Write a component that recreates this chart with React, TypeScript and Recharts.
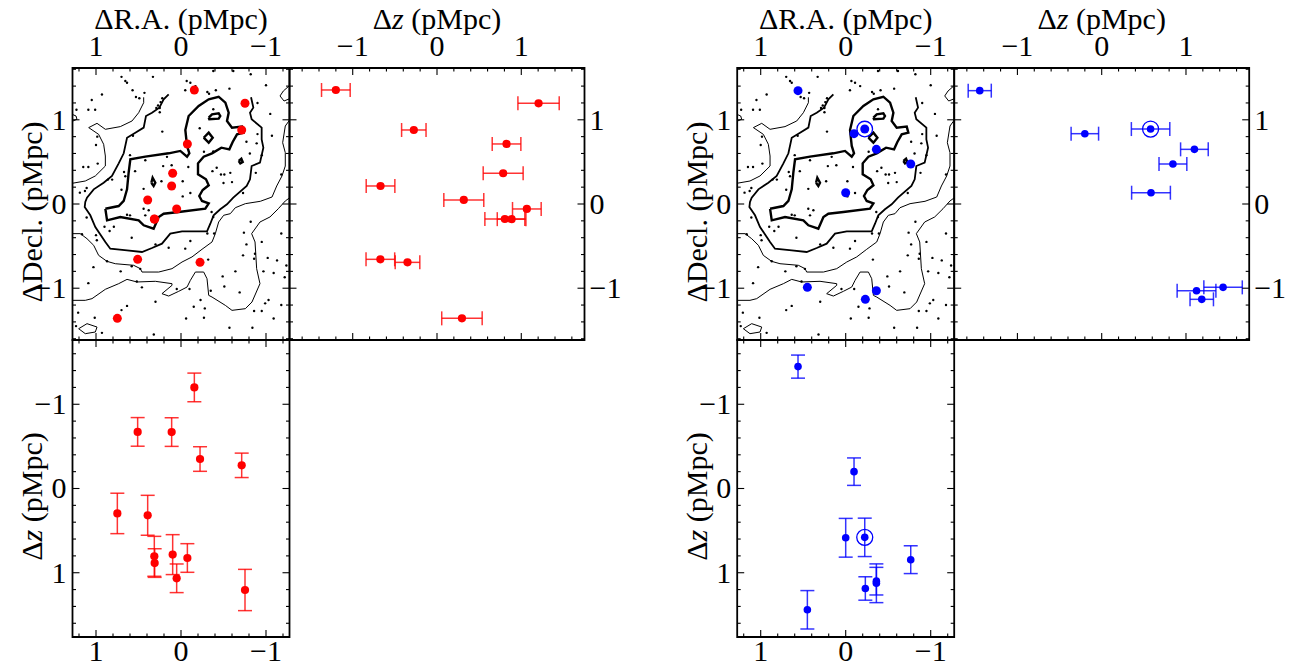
import React from 'react';
import { ScatterChart, Scatter, XAxis, YAxis, ErrorBar, ReferenceArea } from 'recharts';

const FONT = "'Liberation Serif', 'DejaVu Serif', serif";
const W = 1296;
const H = 664;

// ---------- axis ticks / domains ----------
const RA_TICKS = [-1.2, -1.0, -0.8, -0.6, -0.4, -0.2, 0, 0.2, 0.4, 0.6, 0.8, 1.0, 1.2];
const DEC_TICKS = [-1.6, -1.4, -1.2, -1.0, -0.8, -0.6, -0.4, -0.2, 0, 0.2, 0.4, 0.6, 0.8, 1.0, 1.2, 1.4, 1.6];
const DZ_TICKS = [-1.6, -1.4, -1.2, -1.0, -0.8, -0.6, -0.4, -0.2, 0, 0.2, 0.4, 0.6, 0.8, 1.0, 1.2, 1.4, 1.6];
const RA_DOMAIN = [-1.2765, 1.2765];
const DEC_DOMAIN = [-1.615, 1.615];
const DZ_DOMAIN_X = [-1.75, 1.75];
const DZ_DOMAIN_Y = [-1.763, 1.763];

// ---------- red sample ----------
const RED_RA = [-0.157, -0.753, -0.714, -0.075, 0.098, 0.11, 0.392, 0.051, 0.314, 0.31, 0.51, -0.224, 0.749];
const RED_DEC = [1.354, 1.196, 0.879, 0.713, 0.365, 0.214, 0.048, -0.059, -0.178, -0.18, -0.657, -0.693, -1.358];
const RED_DZ = [-1.2, 1.205, -0.275, 0.825, 0.785, -0.67, 0.318, 1.066, 0.805, 0.885, -0.672, -0.35, 0.296];
const RED_DZ_ERR = [0.17, 0.245, 0.145, 0.17, 0.237, 0.17, 0.237, 0.17, 0.237, 0.17, 0.17, 0.146, 0.24];

// ---------- blue sample ----------
const BLUE_RA = [0.561, -0.098, -0.224, -0.361, -0.765, 0.0, 0.451, -0.361, -0.231];
const BLUE_DEC = [1.346, 0.835, 0.89, 0.649, 0.475, 0.134, -0.99, -1.03, -1.132];
const BLUE_DZ = [-1.447, -0.2, 0.58, 1.1, 0.845, 0.585, 1.44, 1.125, 1.187];
const BLUE_DZ_ERR = [0.137, 0.163, 0.228, 0.164, 0.165, 0.23, 0.228, 0.23, 0.139];
const BLUE_MARKED = [2];

// ---------- field galaxies (RA, Dec) ----------
const FIELD_GALAXIES = [
  [0.70, 1.51], [0.655, 1.46], [0.635, 1.44], [0.33, 1.51], [0.57, 1.35], [0.43, 1.32], [0.53, 1.27], [0.49, 1.255],
  [1.05, 1.235], [0.93, 1.30], [1.23, 1.12], [1.09, 1.12], [1.01, 1.12], [0.22, 1.255], [0.24, 1.21], [0.27, 1.17],
  [0.29, 1.14], [0.25, 1.14], [0.25, 1.09], [0.22, 0.86], [0.985, 0.80], [1.0, 0.70], [1.15, 0.44], [1.09, 0.44],
  [0.98, 0.48], [0.60, 0.58], [0.565, 0.81], [0.42, 0.52], [0.165, 0.56], [0.21, 0.45], [0.11, 0.46], [0.54, 0.39],
  [0.67, 0.38], [0.655, 0.33], [0.86, 0.29], [0.81, 0.29], [1.11, 0.19], [1.13, 0.155], [1.19, 0.135], [0.70, 0.17],
  [0.44, 0.18], [0.23, 0.27],
  [-0.067, 1.46], [-0.41, 1.35], [-0.57, 1.37], [-0.82, 1.54], [-1.0, 1.41], [-0.615, 1.58], [-0.38, 1.58], [-0.38, 1.125],
  [-0.22, 0.90], [-0.90, 1.20], [-1.05, 1.07], [-1.07, 0.81], [-0.90, 0.83], [-0.77, 0.74], [-0.89, 0.72], [-0.81, 0.60],
  [-0.95, 0.58], [-0.27, 0.62], [-0.38, 0.625], [-0.086, 0.44], [-0.42, 0.43], [-0.37, 0.39], [-0.47, 0.35], [-0.51, 0.35],
  [-0.58, 0.37], [-0.50, 0.25], [-0.60, 0.26], [-0.02, 0.27], [-0.11, 0.13], [-0.02, 0.09], [-1.18, 0.35], [-0.73, 0.13],
  [-0.88, 0.37], [-0.17, 1.40], [-0.11, 1.44], [-0.05, 1.35], [-0.31, 1.33], [-0.33, 1.31],
  [0.635, -0.127], [0.60, -0.135], [0.44, -0.056], [0.38, -0.075], [0.42, -0.135], [1.11, -0.16], [0.90, -0.27], [0.84, -0.32],
  [0.79, -0.27], [1.165, -0.36], [1.0, -0.37], [0.99, -0.43], [0.58, -0.40], [0.30, -0.48], [0.145, -0.52], [0.87, -0.68],
  [0.71, -0.80], [0.58, -0.74], [0.48, -0.77], [1.03, -0.75], [1.09, -0.94], [0.52, -0.92], [0.46, -0.99], [0.05, -1.01],
  [0.30, -1.16], [0.635, -1.21], [0.70, -1.26], [1.21, -1.29], [1.015, -1.35], [1.235, -1.45], [0.93, -1.53], [0.32, -1.55],
  [-0.36, -0.095], [-0.38, -0.155], [-0.31, -0.35], [-0.39, -0.35], [-0.11, -0.44], [-0.05, -0.53], [-0.32, -0.66], [-0.74, -0.34],
  [-0.77, -0.48], [-0.82, -0.21], [-0.95, -0.45], [-0.87, -0.59], [-0.86, -0.65], [-0.73, -0.61], [-1.02, -0.64], [-1.13, -0.67],
  [-1.18, -0.35], [-1.24, -0.73], [-0.97, -0.80], [-1.09, -0.82], [-0.64, -0.80], [-0.49, -0.86], [-0.51, -0.98], [-0.69, -1.05],
  [-0.35, -1.03], [-0.10, -1.01], [-0.23, -1.14], [-0.15, -1.22], [-0.28, -1.24], [-0.06, -1.36], [-0.27, -1.35], [-0.86, -1.27],
  [-0.95, -1.27], [-0.99, -1.18], [-1.03, -1.14], [-1.09, -1.36], [-1.18, -1.20], [-0.57, -1.47], [-0.84, -1.47], [-1.22, -0.87],
];

// ---------- density contours (RA, Dec) ----------
const CONTOUR_INNER = [
  [0.89, -0.056], [0.733, -0.024], [0.674, 0.036], [0.635, 0.174], [0.616, 0.372], [0.596, 0.531], [0.42, 0.562], [0.145, 0.602],
  [0.008, 0.63], [-0.071, 0.562], [-0.098, 0.602], [-0.071, 0.689], [-0.051, 0.879], [-0.09, 1.045], [-0.208, 1.164], [-0.326, 1.243],
  [-0.443, 1.274], [-0.522, 1.203], [-0.561, 1.084], [-0.541, 0.986], [-0.60, 0.907], [-0.718, 0.919], [-0.737, 0.847], [-0.659, 0.827],
  [-0.608, 0.736], [-0.569, 0.649], [-0.475, 0.669], [-0.365, 0.602], [-0.267, 0.562], [-0.20, 0.483], [-0.20, 0.352], [-0.294, 0.293],
  [-0.326, 0.222], [-0.255, 0.166], [-0.215, 0.095], [-0.247, 0.036], [-0.326, 0.008], [-0.286, -0.056], [0.027, -0.095], [0.204, -0.115],
  [0.262, -0.154], [0.322, -0.293], [0.439, -0.253], [0.498, -0.194], [0.714, -0.154], [0.87, -0.194], [0.89, -0.056],
];
const ISLAND_A = [[-0.326, 1.025], [-0.365, 1.065], [-0.443, 1.077], [-0.462, 1.045], [-0.443, 1.013], [-0.333, 1.006], [-0.326, 1.025]];
const ISLAND_B = [[-0.267, 0.787], [-0.326, 0.847], [-0.373, 0.787], [-0.326, 0.728], [-0.267, 0.787]];
const ISLAND_C = [[0.349, 0.253], [0.334, 0.312], [0.302, 0.253], [0.322, 0.214], [0.349, 0.253]];
const ISLAND_D = [[-0.679, 0.511], [-0.71, 0.538], [-0.726, 0.499], [-0.698, 0.483], [-0.679, 0.511]];
const CONTOUR_MID = [
  [0.145, 1.303], [0.204, 1.243], [0.255, 1.144], [0.341, 1.084], [0.412, 1.045], [0.439, 0.907], [0.537, 0.847], [0.635, 0.787],
  [0.674, 0.602], [0.733, 0.483], [0.812, 0.333], [0.91, 0.253], [1.027, 0.174], [1.106, 0.075], [1.126, 0.024], [1.133, -0.036],
  [1.067, -0.134], [1.008, -0.273], [0.89, -0.451], [0.832, -0.531], [0.635, -0.55], [0.459, -0.57], [0.341, -0.523], [0.224, -0.471],
  [0.126, -0.352], [-0.012, -0.325], [-0.306, -0.325], [-0.345, -0.234], [-0.384, -0.134], [-0.462, -0.063], [-0.541, -0.004],
  [-0.615, 0.075], [-0.773, 0.214], [-0.812, 0.293], [-0.831, 0.451], [-0.929, 0.491], [-0.969, 0.669], [-0.949, 0.768],
  [-0.949, 0.907], [-0.831, 1.006], [-0.812, 1.084], [-0.851, 1.144], [-0.824, 1.267],
];
const CONTOUR_OUTER_NW = [
  [1.28, 0.246], [1.126, 0.273], [1.008, 0.333], [0.89, 0.451], [0.89, 0.57], [0.91, 0.709], [0.969, 0.827], [1.086, 0.907],
  [0.988, 0.958], [0.89, 0.887], [0.714, 0.919], [0.576, 0.986], [0.498, 1.084], [0.439, 1.203], [0.439, 1.267],
];
const CONTOUR_OUTER_S = [
  [1.28, -0.352], [1.184, -0.352], [1.106, -0.412], [1.027, -0.491], [0.969, -0.61], [0.871, -0.681], [0.773, -0.709], [0.557, -0.728],
  [0.478, -0.768], [0.459, -0.808], [0.262, -0.808], [0.106, -0.768], [-0.012, -0.689], [-0.129, -0.629], [-0.247, -0.538],
  [-0.365, -0.451], [-0.404, -0.352], [-0.443, -0.214], [-0.502, -0.134], [-0.58, -0.115], [-0.639, -0.044], [-0.757, 0.004],
  [-0.933, 0.032], [-1.071, 0.083], [-1.126, 0.214], [-1.188, 0.333], [-1.227, 0.451], [-1.227, 0.609], [-1.196, 0.728],
  [-1.227, 0.926], [-1.28, 1.0],
];
const CONTOUR_LOWEST = [
  [1.28, -1.144], [1.126, -1.144], [1.047, -1.124], [0.89, -1.013], [0.733, -0.946], [0.635, -0.895], [0.518, -0.926], [0.302, -0.918],
  [0.106, -0.946], [0.106, -0.966], [0.224, -1.065], [0.145, -1.093], [0.027, -1.037], [-0.071, -0.986], [-0.11, -0.907],
  [-0.169, -0.808], [-0.267, -0.808], [-0.306, -0.887], [-0.326, -1.085], [-0.365, -1.105], [-0.522, -1.204], [-0.60, -1.263],
  [-0.757, -1.243], [-0.835, -1.164], [-0.929, -0.946], [-0.89, -0.768], [-0.871, -0.451], [-0.831, -0.352], [-0.929, -0.214],
  [-1.047, -0.154], [-1.145, -0.056], [-1.227, 0.036], [-1.28, 0.075],
];
const CONTOUR_EDGE_W = [[1.28, 1.065], [1.235, 1.045], [1.224, 1.006], [1.28, 0.982]];
const CONTOUR_EDGE_NE = [[-1.28, 1.409], [-1.204, 1.342], [-1.165, 1.283], [-1.212, 1.223], [-1.28, 1.251]];
const CONTOUR_LOOP_SW = [[1.204, -1.481], [1.106, -1.421], [0.988, -1.461], [1.008, -1.52], [1.126, -1.54], [1.204, -1.481]];

const THICK_CONTOURS = [CONTOUR_INNER, ISLAND_A, ISLAND_B, ISLAND_C, ISLAND_D];
const MID_CONTOURS = [CONTOUR_MID];
const THIN_CONTOURS = [CONTOUR_OUTER_NW, CONTOUR_OUTER_S, CONTOUR_LOWEST, CONTOUR_EDGE_W, CONTOUR_EDGE_NE, CONTOUR_LOOP_SW];

// ---------- helpers ----------
const toXY = (arr: number[][]) => arr.map(([x, y]) => ({ x, y }));
const fmt = (v: number) => {
  const r = Math.round(v);
  return r < 0 ? '\u2212' + Math.abs(r) : String(r);
};

type Side = 'top' | 'bottom' | 'left' | 'right';
const TICK_FS = 30;
const TITLE_FS = 30;

function makeTick(side: Side, span: number) {
  return (props: any) => {
    const { x, y, payload } = props;
    const v = Number(payload.value);
    const major = Math.abs(v - Math.round(v)) < 1e-6;
    const len = major ? 7 : 3.5;
    let a: number[];
    let b: number[];
    let label: any = null;
    const tp = { fontFamily: FONT, fontSize: TICK_FS, fill: '#000' };
    if (side === 'top') {
      a = [x, y, x, y + len];
      b = [x, y + span, x, y + span - len];
      if (major) label = <text x={x} y={y - 12} textAnchor="middle" {...tp}>{fmt(v)}</text>;
    } else if (side === 'bottom') {
      a = [x, y, x, y - len];
      b = [x, y - span, x, y - span + len];
      if (major) label = <text x={x} y={y + 24} textAnchor="middle" {...tp}>{fmt(v)}</text>;
    } else if (side === 'left') {
      a = [x, y, x + len, y];
      b = [x + span, y, x + span - len, y];
      if (major) label = <text x={x - 6} y={y} dy="0.33em" textAnchor="end" {...tp}>{fmt(v)}</text>;
    } else {
      a = [x, y, x - len, y];
      b = [x - span, y, x - span + len, y];
      if (major) label = <text x={x + 5} y={y} dy="0.33em" textAnchor="start" {...tp}>{fmt(v)}</text>;
    }
    return (
      <g>
        <line x1={a[0]} y1={a[1]} x2={a[2]} y2={a[3]} stroke="#000" strokeWidth={1.1} />
        <line x1={b[0]} y1={b[1]} x2={b[2]} y2={b[3]} stroke="#000" strokeWidth={1.1} />
        {label}
      </g>
    );
  };
}

const noShape = () => <g />;
const dotShape = (r: number, fill: string) => (p: any) => <circle cx={p.cx} cy={p.cy} r={r} fill={fill} />;
const ringShape = (r: number, stroke: string) => (p: any) => (
  <circle cx={p.cx} cy={p.cy} r={r} fill="none" stroke={stroke} strokeWidth={1.3} />
);

const DZ_TEXT = (
  <>
    <tspan>Δ</tspan>
    <tspan fontStyle="italic">z</tspan>
    <tspan> (pMpc)</tspan>
  </>
);

function topTitle(cx: number, content: any) {
  return () => (
    <text x={cx} y={29} textAnchor="middle" fontFamily={FONT} fontSize={TITLE_FS} fill="#000">
      {content}
    </text>
  );
}
function leftTitle(bx: number, cy: number, content: any) {
  return () => (
    <text x={bx} y={cy} textAnchor="middle" fontFamily={FONT} fontSize={TITLE_FS} fill="#000" transform={`rotate(-90 ${bx} ${cy})`}>
      {content}
    </text>
  );
}

type PanelProps = {
  px: number; py: number; pw: number; ph: number;
  xSide: 'top' | 'bottom'; ySide: 'left' | 'right';
  xDomain: number[]; yDomain: number[]; xTicks: number[]; yTicks: number[];
  xReversed?: boolean; yReversed?: boolean;
  xTitle?: any; yTitle?: any;
  children?: any;
};

function Panel(p: PanelProps) {
  const margin = {
    top: p.xSide === 'top' ? 0 : p.py,
    bottom: p.xSide === 'bottom' ? 0 : H - p.py - p.ph,
    left: p.ySide === 'left' ? 0 : p.px,
    right: p.ySide === 'right' ? 0 : W - p.px - p.pw,
  };
  const xSize = p.xSide === 'top' ? p.py : H - p.py - p.ph;
  const ySize = p.ySide === 'left' ? p.px : W - p.px - p.pw;
  return (
    <div style={{ position: 'absolute', left: 0, top: 0 }}>
      <ScatterChart width={W} height={H} margin={margin}>
        <XAxis
          type="number"
          dataKey="x"
          orientation={p.xSide}
          height={xSize}
          domain={p.xDomain}
          ticks={p.xTicks}
          interval={0}
          reversed={p.xReversed}
          allowDataOverflow
          axisLine={false}
          tickLine={false}
          tickSize={0}
          tickMargin={0}
          tick={makeTick(p.xSide, p.ph)}
          label={p.xTitle ? topTitle(p.px + p.pw / 2, p.xTitle) : undefined}
        />
        <YAxis
          type="number"
          dataKey="y"
          orientation={p.ySide}
          width={ySize}
          domain={p.yDomain}
          ticks={p.yTicks}
          interval={0}
          reversed={p.yReversed}
          allowDataOverflow
          axisLine={false}
          tickLine={false}
          tickSize={0}
          tickMargin={0}
          tick={makeTick(p.ySide, p.pw)}
          label={p.yTitle ? leftTitle(p.px - 30.5, p.py + p.ph / 2 + 8, p.yTitle) : undefined}
        />
        {p.children}
        <ReferenceArea
          x1={p.xDomain[0]}
          x2={p.xDomain[1]}
          y1={p.yDomain[0]}
          y2={p.yDomain[1]}
          fill="none"
          fillOpacity={0}
          stroke="#000"
          strokeWidth={1.8}
          strokeOpacity={1}
          ifOverflow="visible"
        />
      </ScatterChart>
    </div>
  );
}

function skyLayers(keyPrefix: string) {
  const out: any[] = [];
  THIN_CONTOURS.forEach((c, i) =>
    out.push(
      <Scatter key={keyPrefix + 'thin' + i} data={toXY(c)} line={{ stroke: '#000', strokeWidth: 1 }} stroke="#000" fill="none" shape={noShape} isAnimationActive={false} />
    )
  );
  MID_CONTOURS.forEach((c, i) =>
    out.push(
      <Scatter key={keyPrefix + 'mid' + i} data={toXY(c)} line={{ stroke: '#000', strokeWidth: 1.8 }} stroke="#000" fill="none" shape={noShape} isAnimationActive={false} />
    )
  );
  THICK_CONTOURS.forEach((c, i) =>
    out.push(
      <Scatter key={keyPrefix + 'thick' + i} data={toXY(c)} line={{ stroke: '#000', strokeWidth: 2.4 }} stroke="#000" fill="none" shape={noShape} isAnimationActive={false} />
    )
  );
  out.push(<Scatter key={keyPrefix + 'field'} data={toXY(FIELD_GALAXIES)} shape={dotShape(1.2, '#000')} isAnimationActive={false} />);
  return out;
}

function Group(props: {
  ox: number; trx: number; color: string; ra: number[]; dec: number[]; dz: number[]; err: number[]; marked: number[]; errR: number;
}) {
  const { ox, trx, color, ra, dec, dz, err, marked, errR } = props;
  const sky = ra.map((r, i) => ({ x: r, y: dec[i] }));
  const zdec = dz.map((z, i) => ({ x: z, y: dec[i], err: err[i] }));
  const razv = ra.map((r, i) => ({ x: r, y: dz[i], err: err[i] }));
  const skyM = marked.map((i) => sky[i]);
  const zdecM = marked.map((i) => zdec[i]);
  const razM = marked.map((i) => razv[i]);
  const top = 68;
  const h1 = 272;
  const bly = 340;
  const h2 = 297;
  const w1 = 217;
  const w2 = 295;
  return (
    <>
      <Panel
        px={ox} py={top} pw={w1} ph={h1} xSide="top" ySide="left"
        xDomain={RA_DOMAIN} yDomain={DEC_DOMAIN} xTicks={RA_TICKS} yTicks={DEC_TICKS} xReversed
        xTitle="ΔR.A. (pMpc)" yTitle="ΔDecl. (pMpc)"
      >
        {skyLayers(color)}
        <Scatter data={sky} shape={dotShape(4.5, color)} isAnimationActive={false} />
        <Scatter data={skyM} shape={ringShape(7.8, color)} isAnimationActive={false} />
      </Panel>
      <Panel
        px={trx} py={top} pw={w2} ph={h1} xSide="top" ySide="right"
        xDomain={DZ_DOMAIN_X} yDomain={DEC_DOMAIN} xTicks={DZ_TICKS} yTicks={DEC_TICKS}
        xTitle={DZ_TEXT}
      >
        <Scatter data={zdec} shape={dotShape(errR, color)} isAnimationActive={false}>
          <ErrorBar dataKey="err" direction="x" width={7} stroke={color} strokeOpacity={0.8} strokeWidth={1.5} isAnimationActive={false} />
        </Scatter>
        <Scatter data={zdecM} shape={ringShape(8, color)} isAnimationActive={false} />
      </Panel>
      <Panel
        px={ox} py={bly} pw={w1} ph={h2} xSide="bottom" ySide="left"
        xDomain={RA_DOMAIN} yDomain={DZ_DOMAIN_Y} xTicks={RA_TICKS} yTicks={DZ_TICKS} xReversed yReversed
        yTitle={DZ_TEXT}
      >
        <Scatter data={razv} shape={dotShape(errR, color)} isAnimationActive={false}>
          <ErrorBar dataKey="err" direction="y" width={7} stroke={color} strokeOpacity={0.8} strokeWidth={1.5} isAnimationActive={false} />
        </Scatter>
        <Scatter data={razM} shape={ringShape(8, color)} isAnimationActive={false} />
      </Panel>
    </>
  );
}

export default function App() {
  return (
    <div style={{ position: 'fixed', left: 0, top: 0, width: W, height: H, overflow: 'hidden', background: '#fff' }}>
      <Group ox={72.5} trx={289.5} color="#ff0000" ra={RED_RA} dec={RED_DEC} dz={RED_DZ} err={RED_DZ_ERR} marked={[]} errR={4.1} />
      <Group ox={737.2} trx={954.2} color="#0000ff" ra={BLUE_RA} dec={BLUE_DEC} dz={BLUE_DZ} err={BLUE_DZ_ERR} marked={BLUE_MARKED} errR={3.8} />
    </div>
  );
}
